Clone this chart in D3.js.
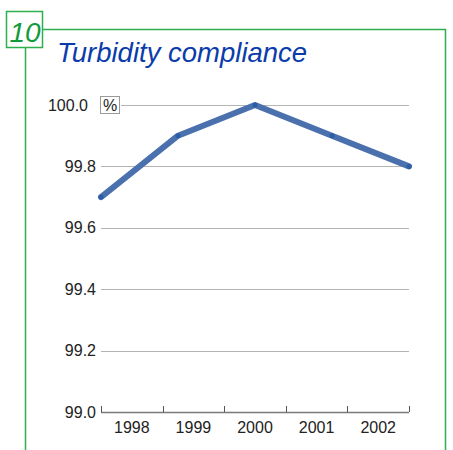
<!DOCTYPE html>
<html>
<head>
<meta charset="utf-8">
<script src="https://cdn.jsdelivr.net/npm/d3@7"></script>
<style>
  html, body { margin: 0; padding: 0; background: #fff; }
  svg { display: block; font-family: "Liberation Sans", Arial, sans-serif; }
</style>
</head>
<body>
<div id="chart"></div>
<script>
// Turbidity compliance, % of samples
const years = ['1998', '1999', '2000', '2001', '2002'];
const compliance = [99.7, 99.9, 100.0, 99.9, 99.8];
const yTicks = [99.0, 99.2, 99.4, 99.6, 99.8, 100.0];

const width = 453, height = 450;
const green = '#2fae4e';

const svg = d3.select('#chart')
  .append('svg')
  .attr('width', width)
  .attr('height', height);

// frame with number tab
svg.append('rect')
  .attr('x', 6.5).attr('y', 11.5)
  .attr('width', 36).attr('height', 36)
  .attr('fill', '#fff')
  .attr('stroke', green).attr('stroke-width', 1.5);
svg.append('path')
  .attr('d', 'M43,29.5 H445.5 V450 M25.5,48 V450')
  .attr('fill', 'none')
  .attr('stroke', green).attr('stroke-width', 1.5);
svg.append('text')
  .attr('x', 25).attr('y', 41.5)
  .attr('text-anchor', 'middle')
  .attr('font-size', 28)
  .attr('font-style', 'italic')
  .attr('fill', '#129a3c')
  .text('10');

svg.append('text')
  .attr('x', 57).attr('y', 62)
  .attr('font-size', 27.5)
  .attr('font-style', 'italic')
  .attr('fill', '#0a3cab')
  .text('Turbidity compliance');

const y = d3.scaleLinear()
  .domain([99, 100])
  .range([412, 105]);

const xBand = d3.scaleBand()
  .domain(years)
  .range([101, 409]);

const xPoint = d3.scalePoint()
  .domain(years)
  .range([101, 409]);

// gridlines
svg.append('g')
  .selectAll('line')
  .data(yTicks.filter(d => d > 99))
  .join('line')
  .attr('x1', d => d === 100 ? 121 : 101)
  .attr('x2', 409)
  .attr('y1', d => Math.round(y(d)) + 0.5)
  .attr('y2', d => Math.round(y(d)) + 0.5)
  .attr('stroke', '#b4b4b4')
  .attr('stroke-width', 1);

// y labels
const yAxis = svg.append('g')
  .attr('transform', 'translate(96,0)')
  .call(d3.axisLeft(y).tickValues(yTicks).tickFormat(d3.format('.1f')).tickSize(0).tickPadding(0));
yAxis.select('.domain').remove();
yAxis.selectAll('text')
  .attr('font-size', 16)
  .attr('font-family', '"Liberation Sans", Arial, sans-serif')
  .attr('fill', '#222')
  .attr('dx', d => d === 100 ? -8 : 0);

// unit box
svg.append('rect')
  .attr('x', 100.5).attr('y', 96.5)
  .attr('width', 19).attr('height', 17)
  .attr('fill', '#fff')
  .attr('stroke', '#9a9a9a').attr('stroke-width', 1);
svg.append('text')
  .attr('x', 110).attr('y', 110.5)
  .attr('text-anchor', 'middle')
  .attr('font-size', 16)
  .attr('fill', '#222')
  .text('%');

// x axis
const xAxis = svg.append('g')
  .attr('transform', 'translate(0,412)')
  .call(d3.axisBottom(xBand).tickSize(0).tickPadding(10));
xAxis.select('.domain')
  .attr('d', 'M101,0.5 H409')
  .attr('stroke', '#7a7a7a')
  .attr('stroke-width', 1.5);
xAxis.selectAll('text')
  .attr('font-size', 16)
  .attr('font-family', '"Liberation Sans", Arial, sans-serif')
  .attr('fill', '#222');
xAxis.append('g')
  .selectAll('line')
  .data(years.map(d => xBand(d)).concat([xBand.range()[1]]))
  .join('line')
  .attr('x1', d => Math.round(d) + 0.5)
  .attr('x2', d => Math.round(d) + 0.5)
  .attr('y1', -6)
  .attr('y2', 0)
  .attr('stroke', '#555')
  .attr('stroke-width', 1);

// data line
const pts = years.map((yr, i) => ({ year: yr, value: compliance[i] }));
svg.append('path')
  .datum(pts)
  .attr('fill', 'none')
  .attr('stroke', '#4a70ad')
  .attr('stroke-width', 6)
  .attr('stroke-linecap', 'round')
  .attr('stroke-linejoin', 'round')
  .attr('d', d3.line().x(d => xPoint(d.year)).y(d => y(d.value)));

svg.append('g')
  .selectAll('circle')
  .data(pts)
  .join('circle')
  .attr('cx', d => xPoint(d.year))
  .attr('cy', d => y(d.value))
  .attr('r', 2.5)
  .attr('fill', '#2a5ea6');
</script>
</body>
</html>
